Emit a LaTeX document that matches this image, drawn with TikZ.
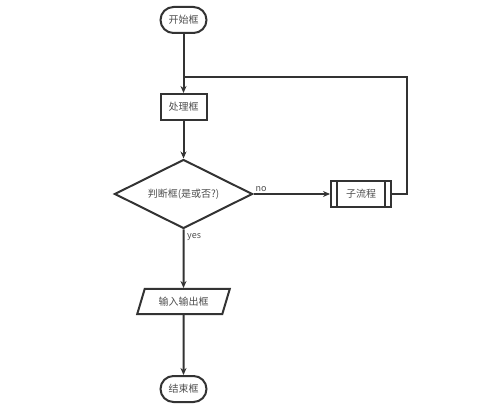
\documentclass[tikz,border=0pt]{standalone}
\usepackage{fontspec}
\setmainfont{Noto Sans CJK SC}
\usetikzlibrary{shapes.geometric,arrows.meta}
\definecolor{linegray}{HTML}{333333}
\definecolor{textgray}{HTML}{4D4D4D}
\tikzset{%
  every box/.style={
    draw=linegray,
    line width=2pt,
    text=textgray,
    font=\fontsize{10}{12}\selectfont,
    inner sep=0pt,
    minimum width=46pt,
    minimum height=26pt
  },
  box terminal/.style={
    rounded corners=13pt
  },
  box decide/.style={
    diamond,
    aspect=2,
    minimum width=138pt,
    minimum height=69pt
  },
  box io/.style={
    trapezium,
    trapezium left angle=62.5,
    trapezium right angle=117.5,
    trapezium stretches=true,
    minimum width=93pt,
    minimum height=25pt
  },
  box sub/.style={
    minimum width=60pt,
    path picture={
      \draw [linegray, line width=1.4pt]
        ([xshift=6pt]path picture bounding box.north west) --
        ([xshift=6pt]path picture bounding box.south west);
      \draw [linegray, line width=1.4pt]
        ([xshift=-6pt]path picture bounding box.north east) --
        ([xshift=-6pt]path picture bounding box.south east);
    }
  },
  every link/.style={
    draw=linegray,
    line width=2pt
  },
  link label/.style={
    text=textgray,
    font=\fontsize{9}{11}\selectfont,
    inner sep=2pt
  },
}

\begin{document}
\begin{tikzpicture}[x=1pt, y=-1pt, >={Stealth[length=7pt,width=6pt]}]

    \useasboundingbox (0,0) rectangle (500,411);

    \foreach \m/\s/\t/\y in {start/terminal/开始框/20, proc/process/处理框/107,
        decide/decide/判断框(是或否?)/194, io/io/输入输出框/301.5, stop/terminal/结束框/389}
      \node [every box/.try, box \s/.try] (\m) at (183.5,\y) {\t};

    \node [every box/.try, box sub/.try] (sub) at (361,194) {子流程};

    \foreach \a/\b in {start/proc, proc/decide, decide/io, io/stop}
      \draw [every link, ->] (\a) -- (\b);

    \draw [every link, ->] (decide.east) -- (sub.west);

    \node [link label, above right] (no) at (decide.east) {no};
    \node [link label, below right, xshift=1.5pt, yshift=-2pt] (yes) at (decide.south) {yes};

    \coordinate (loop) at (407,77);
    \draw [every link] (sub.east) -| (loop) -- (loop -| start);

\end{tikzpicture}
\end{document}
